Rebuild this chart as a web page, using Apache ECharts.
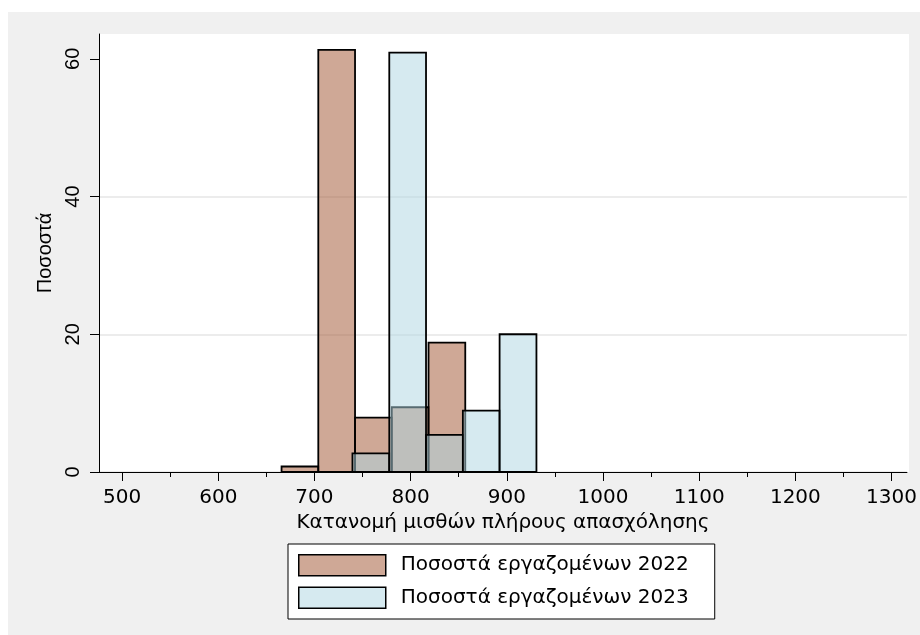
<!DOCTYPE html>
<html>
<head>
<meta charset="utf-8">
<script src="https://cdn.jsdelivr.net/npm/echarts@6/dist/echarts.min.js"></script>
<style>
html,body{margin:0;padding:0;background:#fff;}
#chart{width:920px;height:635px;}
</style>
</head>
<body>
<div id="chart"></div>
<script>
// Histogram bin edges (monthly wage, €) and percentages
const binEdges2022 = [665.8, 704, 742.2, 780.4, 818.6, 856.8];
const values2022 = [0.8, 61.3, 7.9, 9.4, 18.8];
const binEdges2023 = [739.5, 777.8, 816, 854.3, 892.5, 930.8];
const values2023 = [2.7, 60.9, 5.4, 8.9, 20.0];

const xTicks = [500, 600, 700, 800, 900, 1000, 1100, 1200, 1300];
const xMinorTicks = [550, 650, 750, 850, 950, 1050, 1150, 1250];
const yTicks = [0, 20, 40, 60];

const seriesName2022 = 'Ποσοστά εργαζομένων 2022';
const seriesName2023 = 'Ποσοστά εργαζομένων 2023';
const xTitle = 'Κατανομή μισθών πλήρους απασχόλησης';
const yTitle = 'Ποσοστά';

function toBins(edges, vals) {
  return vals.map((v, i) => [edges[i], edges[i + 1], v]);
}

const HFONT = 'DejaVu Sans';
const VFONT = 'Liberation Sans';

function makeRender(fill) {
  return function (params, api) {
    const x0 = api.value(0), x1 = api.value(1), v = api.value(2);
    const pTop = api.coord([x0, v]);
    const pBot = api.coord([x1, 0]);
    return {
      type: 'rect',
      shape: { x: pTop[0], y: pTop[1], width: pBot[0] - pTop[0], height: pBot[1] - pTop[1] },
      style: { fill: fill, stroke: '#000', lineWidth: 1.8 }
    };
  };
}

const fill2022 = 'rgba(160,82,45,0.5)';
const fill2023 = 'rgba(173,213,225,0.5)';

const chart = echarts.init(document.getElementById('chart'));
chart.setOption({
  backgroundColor: '#ffffff',
  animation: false,
  graphic: [
    { type: 'rect', z: -20, shape: { x: 8, y: 12, width: 912, height: 623 }, style: { fill: '#f0f0f0' } },
    { type: 'rect', z: -19, shape: { x: 99, y: 34, width: 810, height: 438 }, style: { fill: '#ffffff' } }
  ],
  grid: { left: 99, top: 34, right: 11, bottom: 163, containLabel: false },
  legend: {
    orient: 'vertical',
    left: 288,
    top: 544,
    padding: [10, 26, 10, 10],
    itemGap: 10,
    itemWidth: 87,
    itemHeight: 21,
    backgroundColor: '#ffffff',
    borderColor: '#000',
    borderWidth: 1,
    icon: 'rect',
    itemStyle: { borderColor: '#000', borderWidth: 1.5 },
    textStyle: { fontFamily: HFONT, fontSize: 20, color: '#000', lineHeight: 21, padding: [0, 0, 0, 10] },
    data: [seriesName2022, seriesName2023]
  },
  xAxis: [
    {
      type: 'value', min: 476, max: 1316,
      name: xTitle, nameLocation: 'middle', nameGap: 37,
      nameTextStyle: { fontFamily: HFONT, fontSize: 20, color: '#000' },
      axisLine: { show: true, lineStyle: { color: '#000', width: 1 } },
      axisTick: { show: true, customValues: xTicks, length: 9, lineStyle: { color: '#000', width: 1 } },
      axisLabel: { customValues: xTicks, margin: 16, fontFamily: HFONT, fontSize: 20, color: '#000',
        formatter: function (v) { return String(v); } },
      splitLine: { show: false }
    },
    {
      type: 'value', min: 476, max: 1316, position: 'bottom',
      axisLine: { show: false },
      axisTick: { show: true, customValues: xMinorTicks, length: 5, lineStyle: { color: '#000', width: 1 } },
      axisLabel: { show: false },
      splitLine: { show: false }
    }
  ],
  yAxis: {
    type: 'value', min: 0, max: 63.6, interval: 20,
    name: yTitle, nameLocation: 'middle', nameGap: 41, nameRotate: 90,
    nameTextStyle: { fontFamily: VFONT, fontSize: 20, color: '#000' },
    axisLine: { show: true, lineStyle: { color: '#000', width: 1 } },
    axisTick: { show: true, customValues: yTicks, length: 9, lineStyle: { color: '#000', width: 1 } },
    axisLabel: { customValues: yTicks, rotate: 90, margin: 16, fontFamily: VFONT, fontSize: 20, color: '#000',
      formatter: function (v) { return String(v); } },
    splitLine: { show: true, showMaxLine: false, lineStyle: { color: '#e6e6e6', width: 1.5 } }
  },
  series: [
    {
      name: seriesName2022, type: 'custom', xAxisIndex: 0,
      itemStyle: { color: fill2022, borderColor: '#000', borderWidth: 1.5 },
      renderItem: makeRender(fill2022),
      encode: { x: [0, 1], y: 2 },
      data: toBins(binEdges2022, values2022),
      z: 2
    },
    {
      name: seriesName2023, type: 'custom', xAxisIndex: 0,
      itemStyle: { color: fill2023, borderColor: '#000', borderWidth: 1.5 },
      renderItem: makeRender(fill2023),
      encode: { x: [0, 1], y: 2 },
      data: toBins(binEdges2023, values2023),
      z: 3
    }
  ]
});
</script>
</body>
</html>
